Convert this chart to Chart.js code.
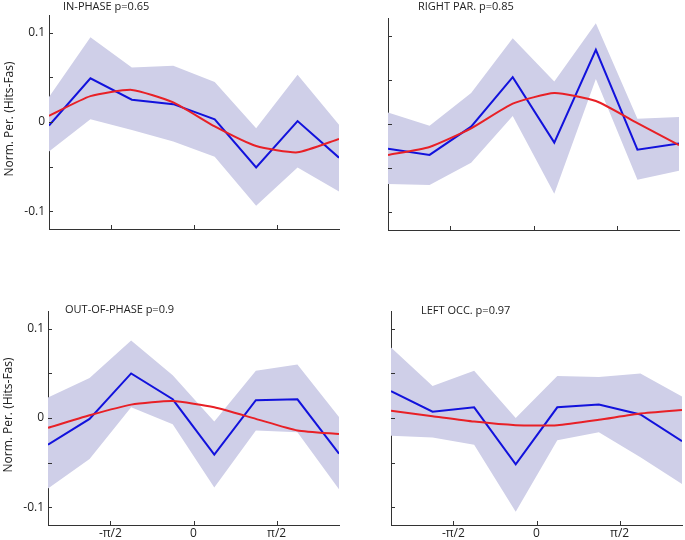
<!DOCTYPE html>
<html><head><meta charset="utf-8">
<script src="https://cdn.jsdelivr.net/npm/chart.js@4/dist/chart.umd.min.js"></script>
<style>
html,body{margin:0;padding:0;background:#fff;}
#wrap{position:relative;width:685px;height:540px;}
canvas{position:absolute;left:0;top:0;}
</style></head><body><div id="wrap">
<canvas id="c0" width="685" height="540"></canvas>
<canvas id="c1" width="685" height="540"></canvas>
<canvas id="c2" width="685" height="540"></canvas>
<canvas id="c3" width="685" height="540"></canvas>
</div>
<script>
// phase bins, in units of pi/8
const phases = [-7, -5, -3, -1, 1, 3, 5, 7];
const xTickValues = [-4, 0, 4];
const xTickLabels = ['-\u03c0/2', '0', '\u03c0/2'];
const yTickValues = [-0.1, -0.05, 0, 0.05, 0.1];
const yTickLabels = ['-0.1', '', '0', '', '0.1'];
const yAxisTitle = 'Norm. Per. (Hits-Fas)';

const titles = ['IN-PHASE p=0.65', 'RIGHT PAR. p=0.85', 'OUT-OF-PHASE p=0.9', 'LEFT OCC. p=0.97'];

const inPhaseObs   = [-0.004, 0.049, 0.025, 0.020, 0.003, -0.051, 0.001, -0.040];
const inPhaseFit   = [0.007, 0.029, 0.036, 0.022, -0.005, -0.027, -0.034, -0.019];
const inPhaseUpper = [0.028, 0.095, 0.061, 0.063, 0.045, -0.007, 0.053, -0.003];
const inPhaseLower = [-0.033, 0.003, -0.009, -0.022, -0.039, -0.094, -0.051, -0.078];

const rightParObs   = [-0.028, -0.035, -0.003, 0.053, -0.021, 0.084, -0.029, -0.022];
const rightParFit   = [-0.035, -0.026, -0.005, 0.023, 0.035, 0.026, 0.001, -0.024];
const rightParUpper = [0.013, -0.002, 0.035, 0.097, 0.048, 0.114, 0.006, 0.008];
const rightParLower = [-0.068, -0.069, -0.044, 0.009, -0.079, 0.051, -0.063, -0.053];

const outPhaseObs   = [-0.030, -0.001, 0.050, 0.021, -0.041, 0.020, 0.021, -0.040];
const outPhaseFit   = [-0.011, 0.003, 0.015, 0.019, 0.012, -0.001, -0.014, -0.018];
const outPhaseUpper = [0.023, 0.045, 0.087, 0.048, -0.004, 0.053, 0.060, 0.001];
const outPhaseLower = [-0.079, -0.046, 0.012, -0.007, -0.078, -0.014, -0.016, -0.080];

const leftOccObs   = [0.030, 0.007, 0.012, -0.052, 0.012, 0.015, 0.004, -0.026];
const leftOccFit   = [0.008, 0.002, -0.004, -0.008, -0.008, -0.002, 0.005, 0.009];
const leftOccUpper = [0.079, 0.036, 0.053, 0.000, 0.047, 0.046, 0.050, 0.024];
const leftOccLower = [-0.020, -0.022, -0.030, -0.105, -0.025, -0.016, -0.044, -0.074];

const panelData = [
  [inPhaseObs, inPhaseFit, inPhaseUpper, inPhaseLower],
  [rightParObs, rightParFit, rightParUpper, rightParLower],
  [outPhaseObs, outPhaseFit, outPhaseUpper, outPhaseLower],
  [leftOccObs, leftOccFit, leftOccUpper, leftOccLower]
];

// layout (chart area in page pixels: left, top, right, bottom)
const panelLayout = [
  {id: 'c0', area: [49, 15, 339, 229], xLabels: false, yLabels: true, titleDx: 14, titleY: 7},
  {id: 'c1', area: [388, 18, 679, 230], xLabels: false, yLabels: false, titleDx: 30, titleY: 7},
  {id: 'c2', area: [48, 311, 339, 525], xLabels: true, yLabels: true, titleDx: 17, titleY: 310},
  {id: 'c3', area: [391, 311, 682, 525], xLabels: true, yLabels: false, titleDx: 30, titleY: 311}
];

const FONT = "'Open Sans', 'Noto Sans', sans-serif";
const TEXT = '#222';
const AXIS = '#333';
const YW = 45, XH = 20;

const decor = {
  id: 'decor',
  afterDraw(chart, args, opts) {
    const ctx = chart.ctx, a = chart.chartArea;
    const xs = chart.scales.x, ys = chart.scales.y;
    ctx.save();
    ctx.strokeStyle = AXIS;
    ctx.lineWidth = 1;
    ctx.beginPath();
    ys.ticks.forEach(t => {
      const y = Math.round(ys.getPixelForValue(t.value)) + 0.5;
      ctx.moveTo(a.left, y); ctx.lineTo(a.left + 4, y);
    });
    xs.ticks.forEach(t => {
      const x = Math.round(xs.getPixelForValue(t.value)) + 0.5;
      ctx.moveTo(x, a.bottom); ctx.lineTo(x, a.bottom - 4);
    });
    ctx.stroke();
    ctx.fillStyle = TEXT;
    ctx.font = '11px ' + FONT;
    ctx.textBaseline = 'middle';
    ctx.textAlign = 'left';
    ctx.fillText(opts.title, a.left + opts.titleDx, opts.titleY);
    if (opts.yLabels) {
      ctx.translate(a.left - 39, (a.top + a.bottom) / 2 - 3);
      ctx.rotate(-Math.PI / 2);
      ctx.font = '12px ' + FONT;
      ctx.textAlign = 'center';
      ctx.fillText(yAxisTitle, 0, 0);
    }
    ctx.restore();
  }
};

panelLayout.forEach((p, i) => {
  const [obs, fit, upper, lower] = panelData[i];
  const [l, t, r, b] = p.area;
  const pts = arr => arr.map((v, k) => ({x: phases[k], y: v}));
  new Chart(document.getElementById(p.id), {
    type: 'line',
    data: {
      datasets: [
        {data: pts(fit), borderColor: 'rgb(232,32,38)', borderWidth: 2, pointRadius: 0, tension: 0.18, fill: false},
        {data: pts(obs), borderColor: 'rgb(18,18,220)', borderWidth: 2, pointRadius: 0, tension: 0, fill: false},
        {data: pts(upper), borderWidth: 0, borderColor: 'rgba(0,0,0,0)', pointRadius: 0, backgroundColor: 'rgb(207,207,232)', fill: '+1'},
        {data: pts(lower), borderWidth: 0, borderColor: 'rgba(0,0,0,0)', pointRadius: 0, fill: false}
      ]
    },
    options: {
      responsive: false,
      animation: false,
      events: [],
      layout: {padding: {left: l - YW, top: t, right: 685 - r, bottom: 540 - b - XH}},
      plugins: {
        legend: {display: false},
        tooltip: {enabled: false},
        decor: {title: titles[i], titleDx: p.titleDx, titleY: p.titleY, yLabels: p.yLabels}
      },
      scales: {
        x: {
          type: 'linear', min: -7, max: 7,
          afterBuildTicks: s => { s.ticks = xTickValues.map(v => ({value: v})); },
          afterFit: s => { s.height = XH; },
          grid: {display: false, drawTicks: false},
          border: {display: true, color: AXIS, width: 1},
          ticks: {
            display: p.xLabels, padding: 1, color: TEXT, font: {family: FONT, size: 12},
            maxRotation: 0, autoSkip: false,
            callback: (v) => xTickLabels[xTickValues.indexOf(v)]
          }
        },
        y: {
          type: 'linear', min: -0.12, max: 0.12,
          afterBuildTicks: s => { s.ticks = yTickValues.map(v => ({value: v})); },
          afterFit: s => { s.width = YW; },
          grid: {display: false, drawTicks: false},
          border: {display: true, color: AXIS, width: 1},
          ticks: {
            display: p.yLabels, padding: 4, color: TEXT, font: {family: FONT, size: 12},
            autoSkip: false,
            callback: (v) => yTickLabels[yTickValues.findIndex(q => Math.abs(q - v) < 1e-9)]
          }
        }
      }
    },
    plugins: [decor]
  });
});
</script>
</body></html>
